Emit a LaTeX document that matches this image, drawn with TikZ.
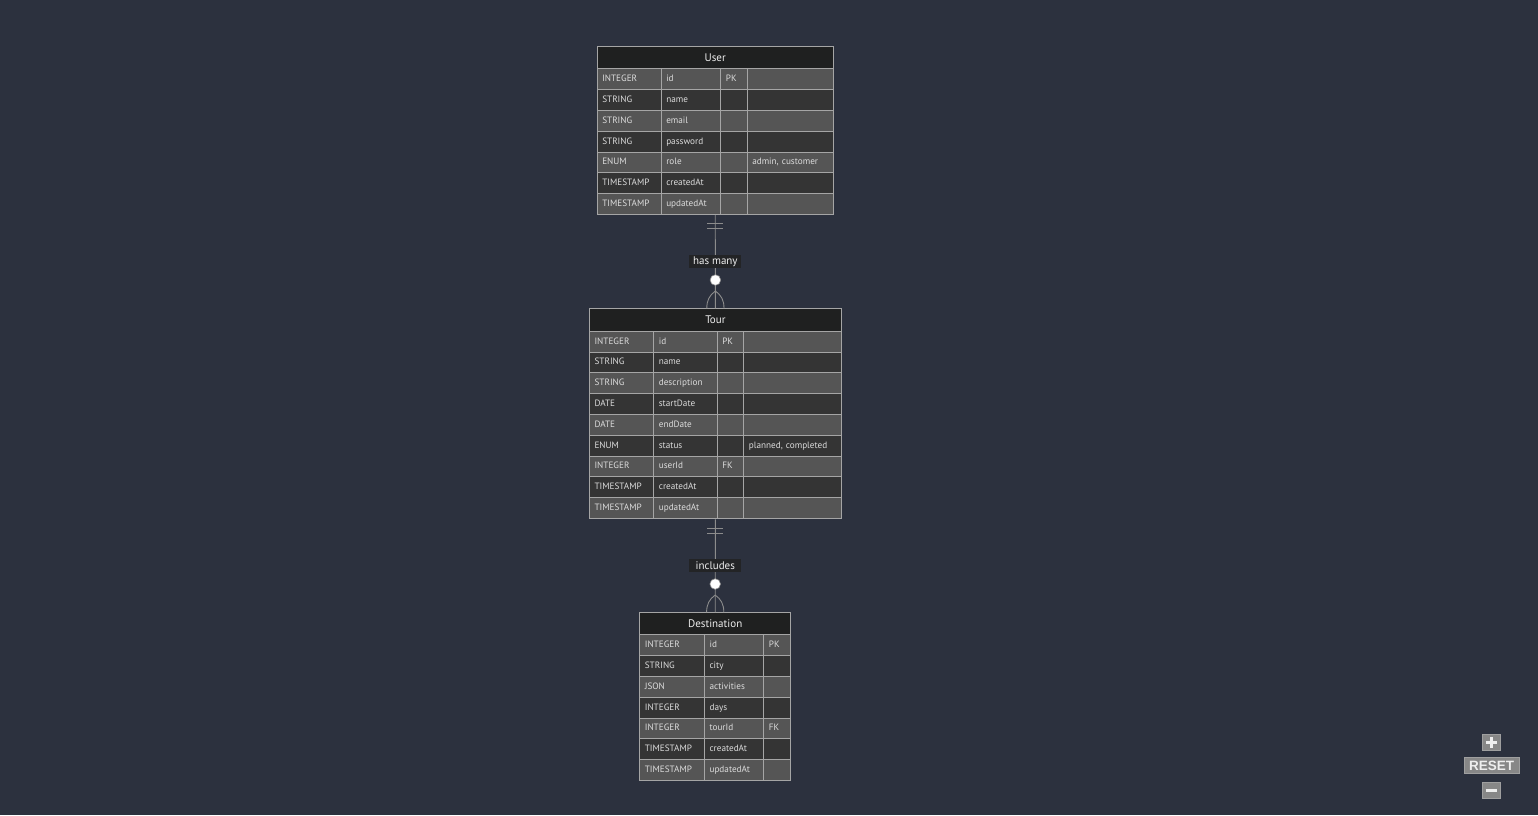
\documentclass[tikz,border=0pt]{standalone}
\usepackage{fontspec}
\setmainfont{PT Sans}
\newfontfamily\btnfont{Liberation Sans}
\usetikzlibrary{calc}

\definecolor{bg}{RGB}{44,49,62}
\definecolor{rowlight}{RGB}{85,85,85}
\definecolor{rowdark}{RGB}{52,52,52}
\definecolor{headfill}{RGB}{31,32,32}
\definecolor{gridcol}{RGB}{165,165,165}
\definecolor{celltext}{RGB}{220,220,220}
\definecolor{linkcol}{RGB}{140,140,140}
\definecolor{labelfill}{RGB}{35,36,38}
\definecolor{btnfill}{RGB}{135,135,135}
\definecolor{btnink}{RGB}{238,238,238}

\tikzset{
  cellbox/.style={draw=gridcol, line width=1.1pt, anchor=north west,
    inner xsep=5pt, inner ysep=0pt, minimum height=20.8pt, align=left,
    text=celltext, font=\fontsize{9.2}{11}\selectfont,
    text height=7pt, text depth=2pt},
  headbox/.style={draw=gridcol, line width=1.1pt, fill=headfill, anchor=north west,
    inner sep=0pt, text=btnink, font=\fontsize{11}{13}\selectfont},
  frame/.style={draw=gridcol, line width=1.1pt, anchor=north west, inner sep=0pt},
  link/.style={draw=linkcol, line width=0.9pt},
  reltext/.style={fill=labelfill, text=btnink, inner sep=0pt,
    minimum height=13pt, font=\fontsize{11}{13}\selectfont},
  optdot/.style={circle, fill=white, draw=linkcol, line width=0.6pt,
    inner sep=0pt, minimum size=10.6pt},
  btn/.style={fill=btnfill, draw=btnfill!80!white, line width=0.6pt, inner sep=0pt},
  btnmark/.style={draw=btnink, line width=2.8pt}
}

% one table cell: name, left x, right x, top y, fill, text
\newcommand\ercell[6]{%
  \pgfmathsetmacro\cw{#3-#2}%
  \pgfmathsetmacro\tw{#3-#2-10}%
  \node[cellbox, fill=#5, minimum width=\cw pt, text width=\tw pt] (#1) at (#2,#4) {#6};}

% four-column attribute rows: prefix, x0..x4, top y, rows
\newcommand\erfour[8]{%
  \foreach \ty/\nm/\ky/\cm [count=\i from 0] in {#8}{%
    \pgfmathsetmacro\yt{#7+20.8*\i}%
    \ifodd\i\relax\def\rf{rowdark}\else\def\rf{rowlight}\fi
    \ercell{#1-type-\i}{#2}{#3}{\yt}{\rf}{\ty}%
    \ercell{#1-name-\i}{#3}{#4}{\yt}{\rf}{\nm}%
    \ercell{#1-key-\i}{#4}{#5}{\yt}{\rf}{\ky}%
    \ercell{#1-note-\i}{#5}{#6}{\yt}{\rf}{\cm}%
  }}

% three-column attribute rows: prefix, x0..x3, top y, rows
\newcommand\erthree[7]{%
  \foreach \ty/\nm/\ky [count=\i from 0] in {#7}{%
    \pgfmathsetmacro\yt{#6+20.8*\i}%
    \ifodd\i\relax\def\rf{rowdark}\else\def\rf{rowlight}\fi
    \ercell{#1-type-\i}{#2}{#3}{\yt}{\rf}{\ty}%
    \ercell{#1-name-\i}{#3}{#4}{\yt}{\rf}{\nm}%
    \ercell{#1-key-\i}{#4}{#5}{\yt}{\rf}{\ky}%
  }}

\begin{document}
\begin{tikzpicture}[x=1pt,y=-1pt]
\fill[bg] (0,0) rectangle (1538,815);
\useasboundingbox (0,0) rectangle (1538,815);

% ---------- User ----------
\node[headbox, minimum width=236pt, minimum height=22.6pt] (user-head) at (596.7,45.7) {User};
\erfour{user}{596.7}{660.7}{720.3}{746.7}{832.7}{68.3}{%
  INTEGER/id/PK/, STRING/name//, STRING/email//, STRING/password//,
  ENUM/role//{admin, customer}, TIMESTAMP/createdAt//, TIMESTAMP/updatedAt//}
\node[frame, minimum width=236pt, minimum height=168.3pt] (user) at (596.7,45.7) {};

% ---------- Tour ----------
\node[headbox, minimum width=251.7pt, minimum height=22.4pt] (tour-head) at (589,308.3) {Tour};
\erfour{tour}{589}{653.3}{716.7}{743.3}{840.7}{330.7}{%
  INTEGER/id/PK/, STRING/name//, STRING/description//, DATE/startDate//,
  DATE/endDate//, ENUM/status//{planned, completed}, INTEGER/userId/FK/,
  TIMESTAMP/createdAt//, TIMESTAMP/updatedAt//}
\node[frame, minimum width=251.7pt, minimum height=210pt] (tour) at (589,308.3) {};

% ---------- Destination ----------
\node[headbox, minimum width=150.7pt, minimum height=22pt] (dest-head) at (639.3,612.3) {Destination};
\erthree{dest}{639.3}{704}{763.3}{790}{634.3}{%
  INTEGER/id/PK, STRING/city/, JSON/activities/, INTEGER/days/,
  INTEGER/tourId/FK, TIMESTAMP/createdAt/, TIMESTAMP/updatedAt/}
\node[frame, minimum width=150.7pt, minimum height=167.7pt] (dest) at (639.3,612.3) {};

% ---------- relationships ----------
\foreach \src/\dst/\txt/\nm in {user/tour/has many/r1, tour/dest/includes/r2}{
  \draw[link] (\src.south) -- (\dst.north);
  % exactly one
  \draw[link] ($(\src.south)+(-8,8.6)$) -- ($(\src.south)+(8,8.6)$);
  \draw[link] ($(\src.south)+(-8,13.6)$) -- ($(\src.south)+(8,13.6)$);
  % zero or many
  \draw[link] ($(\dst.north)+(0,-17.3)$) .. controls ($(\dst.north)+(-6,-13)$) and ($(\dst.north)+(-8.6,-8)$) .. ($(\dst.north)+(-8.6,0)$);
  \draw[link] ($(\dst.north)+(0,-17.3)$) .. controls ($(\dst.north)+(6,-13)$) and ($(\dst.north)+(8.6,-8)$) .. ($(\dst.north)+(8.6,0)$);
  \node[optdot] (\nm-dot) at ($(\dst.north)+(0,-28.3)$) {};
  \node[reltext, minimum width=52pt] (\nm-label) at ($(\src.south)!0.5!(\dst.north)$) {\txt};
}

% ---------- zoom controls ----------
\node[btn, minimum width=17.3pt, minimum height=16.4pt] (zoomin) at (1491.3,742.5) {};
\draw[btnmark] ($(zoomin.center)+(-5.4,0)$) -- ($(zoomin.center)+(5.4,0)$);
\draw[btnmark] ($(zoomin.center)+(0,-5.4)$) -- ($(zoomin.center)+(0,5.4)$);
\node[btn, minimum width=55pt, minimum height=15.6pt, text=btnink,
  font=\btnfont\bfseries\fontsize{13.5}{14}\selectfont] (reset) at (1491.5,765.5) {RESET};
\node[btn, minimum width=17.3pt, minimum height=15.6pt] (zoomout) at (1491.3,790.5) {};
\draw[btnmark] ($(zoomout.center)+(-5.4,0)$) -- ($(zoomout.center)+(5.4,0)$);
\end{tikzpicture}
\end{document}
